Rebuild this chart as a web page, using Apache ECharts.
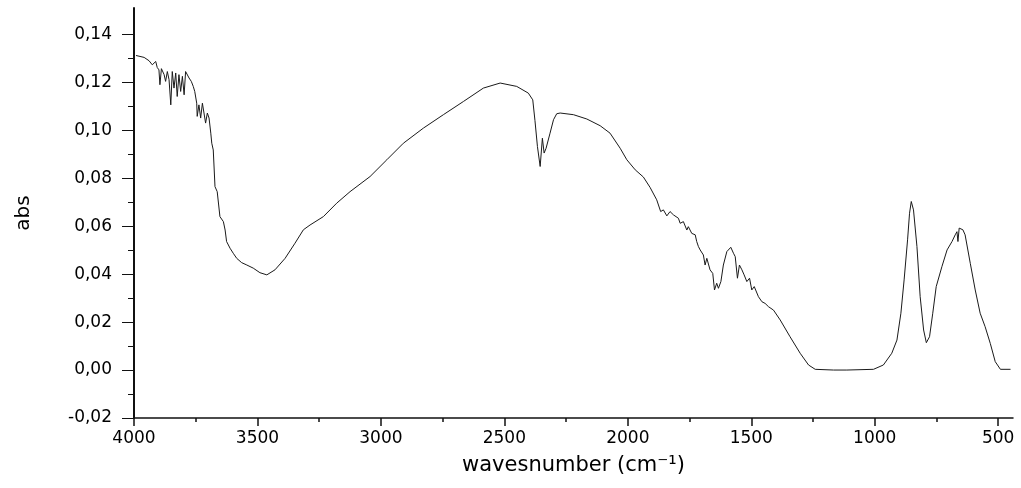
<!DOCTYPE html>
<html>
<head>
<meta charset="utf-8">
<script src="https://cdn.jsdelivr.net/npm/echarts@6/dist/echarts.min.js"></script>
<style>html,body{margin:0;padding:0;background:#fff;}#c{width:1021px;height:488px;}</style>
</head>
<body>
<div id="c"></div>
<script>
// Wavenumber (cm-1)
const wavenumber = [3992,3959,3939,3926,3912,3906,3899,3895,3889,3878,3872,3865,3858,3851,3845,3838,3831,3825,3818,3811,3804,3797,3791,3784,3777,3768,3760,3754,3746,3744,3737,3730,3723,3716,3710,3703,3696,3689,3685,3679,3672,3663,3652,3638,3631,3625,3611,3598,3584,3564,3543,3517,3490,3462,3429,3388,3348,3314,3287,3233,3179,3125,3044,2976,2909,2828,2747,2666,2585,2517,2450,2403,2385,2376,2366,2355,2346,2339,2331,2315,2301,2288,2274,2220,2166,2112,2072,2031,2004,1970,1937,1910,1883,1867,1856,1849,1842,1829,1815,1795,1788,1775,1761,1755,1741,1727,1721,1714,1707,1694,1687,1680,1667,1656,1649,1640,1633,1623,1613,1599,1583,1572,1565,1556,1548,1538,1529,1518,1507,1498,1488,1471,1457,1444,1430,1410,1383,1343,1302,1268,1241,1167,1113,1005,965,931,910,894,881,867,859,852,843,829,816,802,791,778,765,751,728,707,687,674,667,663,658,643,634,613,593,573,553,532,512,491,450];
// Absorbance values
const absorbance = [0.1312,0.1304,0.1290,0.1273,0.1287,0.1262,0.1252,0.1190,0.1257,0.1232,0.1204,0.1245,0.1211,0.1106,0.1245,0.1176,0.1239,0.1141,0.1232,0.1162,0.1225,0.1148,0.1245,0.1239,0.1218,0.1204,0.1183,0.1162,0.1113,0.1058,0.1106,0.1051,0.1113,0.1106,0.1030,0.1072,0.1051,0.0988,0.0946,0.0918,0.0765,0.0744,0.0640,0.0619,0.0584,0.0536,0.0508,0.0487,0.0466,0.0448,0.0438,0.0425,0.0406,0.0397,0.0418,0.0466,0.0529,0.0585,0.0605,0.0640,0.0696,0.0744,0.0807,0.0877,0.0946,0.1009,0.1065,0.1120,0.1176,0.1197,0.1183,0.1155,0.1127,0.1040,0.0932,0.0849,0.0967,0.0905,0.0925,0.0988,0.1044,0.1069,0.1072,0.1065,0.1047,0.1019,0.0988,0.0925,0.0877,0.0835,0.0805,0.0762,0.0710,0.0661,0.0668,0.0675,0.0643,0.0661,0.0647,0.0633,0.0612,0.0619,0.0584,0.0598,0.0570,0.0564,0.0536,0.0515,0.0501,0.0480,0.0438,0.0466,0.0418,0.0403,0.0334,0.0362,0.0341,0.0369,0.0438,0.0494,0.0512,0.0487,0.0473,0.0383,0.0438,0.0418,0.0397,0.0369,0.0383,0.0334,0.0348,0.0306,0.0285,0.0278,0.0264,0.0250,0.0209,0.0139,0.0070,0.0021,0.0003,0.0000,0.0000,0.0003,0.0021,0.0070,0.0125,0.0237,0.0376,0.0543,0.0654,0.0703,0.0668,0.0515,0.0306,0.0167,0.0114,0.0139,0.0237,0.0348,0.0431,0.0501,0.0536,0.0564,0.0577,0.0536,0.0592,0.0585,0.0564,0.0445,0.0334,0.0237,0.0181,0.0111,0.0035,0.0003,0.0003];

const xTicks = [4000,3500,3000,2500,2000,1500,1000,500];
const xMinorTicks = [3750,3250,2750,2250,1750,1250,750];
const yTicks = [-0.02,0,0.02,0.04,0.06,0.08,0.10,0.12,0.14];
const yMinorTicks = [-0.01,0.01,0.03,0.05,0.07,0.09,0.11,0.13];

const X_MIN = 440, X_MAX = 4000, Y_MIN = -0.02, Y_MAX = 0.151;
const FONT = 'DejaVu Sans';
const AXC = '#111';

const chart = echarts.init(document.getElementById('c'));
chart.setOption({
  animation: false,
  backgroundColor: '#fff',
  grid: {left: 134, right: 8, top: 8, bottom: 70, containLabel: false},
  xAxis: [{
    type: 'value', inverse: true, min: X_MIN, max: X_MAX,
    name: 'wavesnumber (cm⁻¹)', nameLocation: 'middle', nameGap: 37,
    nameTextStyle: {fontFamily: FONT, fontSize: 21, color: '#000'},
    axisLine: {show: true, onZero: false, lineStyle: {color: AXC, width: 1.5}},
    axisTick: {show: true, inside: false, length: 8, customValues: xTicks, lineStyle: {color: AXC, width: 1.5}},
    axisLabel: {show: true, margin: 12, customValues: xTicks, fontFamily: FONT, fontSize: 17, color: '#000',
      formatter: v => String(v)},
    splitLine: {show: false}
  }, {
    type: 'value', inverse: true, min: X_MIN, max: X_MAX, position: 'bottom',
    axisLine: {show: false, onZero: false},
    axisTick: {show: true, length: 4, customValues: xMinorTicks, lineStyle: {color: AXC, width: 1.5}},
    axisLabel: {show: false},
    splitLine: {show: false}
  }],
  yAxis: [{
    type: 'value', min: Y_MIN, max: Y_MAX,
    name: 'abs', nameLocation: 'middle', nameGap: 100, nameRotate: 90,
    nameTextStyle: {fontFamily: FONT, fontSize: 20, color: '#000'},
    axisLine: {show: true, onZero: false, lineStyle: {color: AXC, width: 2}},
    axisTick: {show: true, length: 12, customValues: yTicks, lineStyle: {color: AXC, width: 1}},
    axisLabel: {show: true, margin: 22, customValues: yTicks, fontFamily: FONT, fontSize: 17, color: '#000',
      formatter: v => v.toFixed(2).replace('.', ',')},
    splitLine: {show: false}
  }, {
    type: 'value', min: Y_MIN, max: Y_MAX, position: 'left',
    axisLine: {show: false, onZero: false},
    axisTick: {show: true, length: 6, customValues: yMinorTicks, lineStyle: {color: AXC, width: 1}},
    axisLabel: {show: false},
    splitLine: {show: false}
  }],
  series: [{
    type: 'line',
    xAxisIndex: 0, yAxisIndex: 0,
    data: wavenumber.map((w, i) => [w, absorbance[i]]),
    showSymbol: false, symbol: 'none',
    lineStyle: {color: '#1a1a1a', width: 1},
    silent: true
  }]
});
</script>
</body>
</html>
